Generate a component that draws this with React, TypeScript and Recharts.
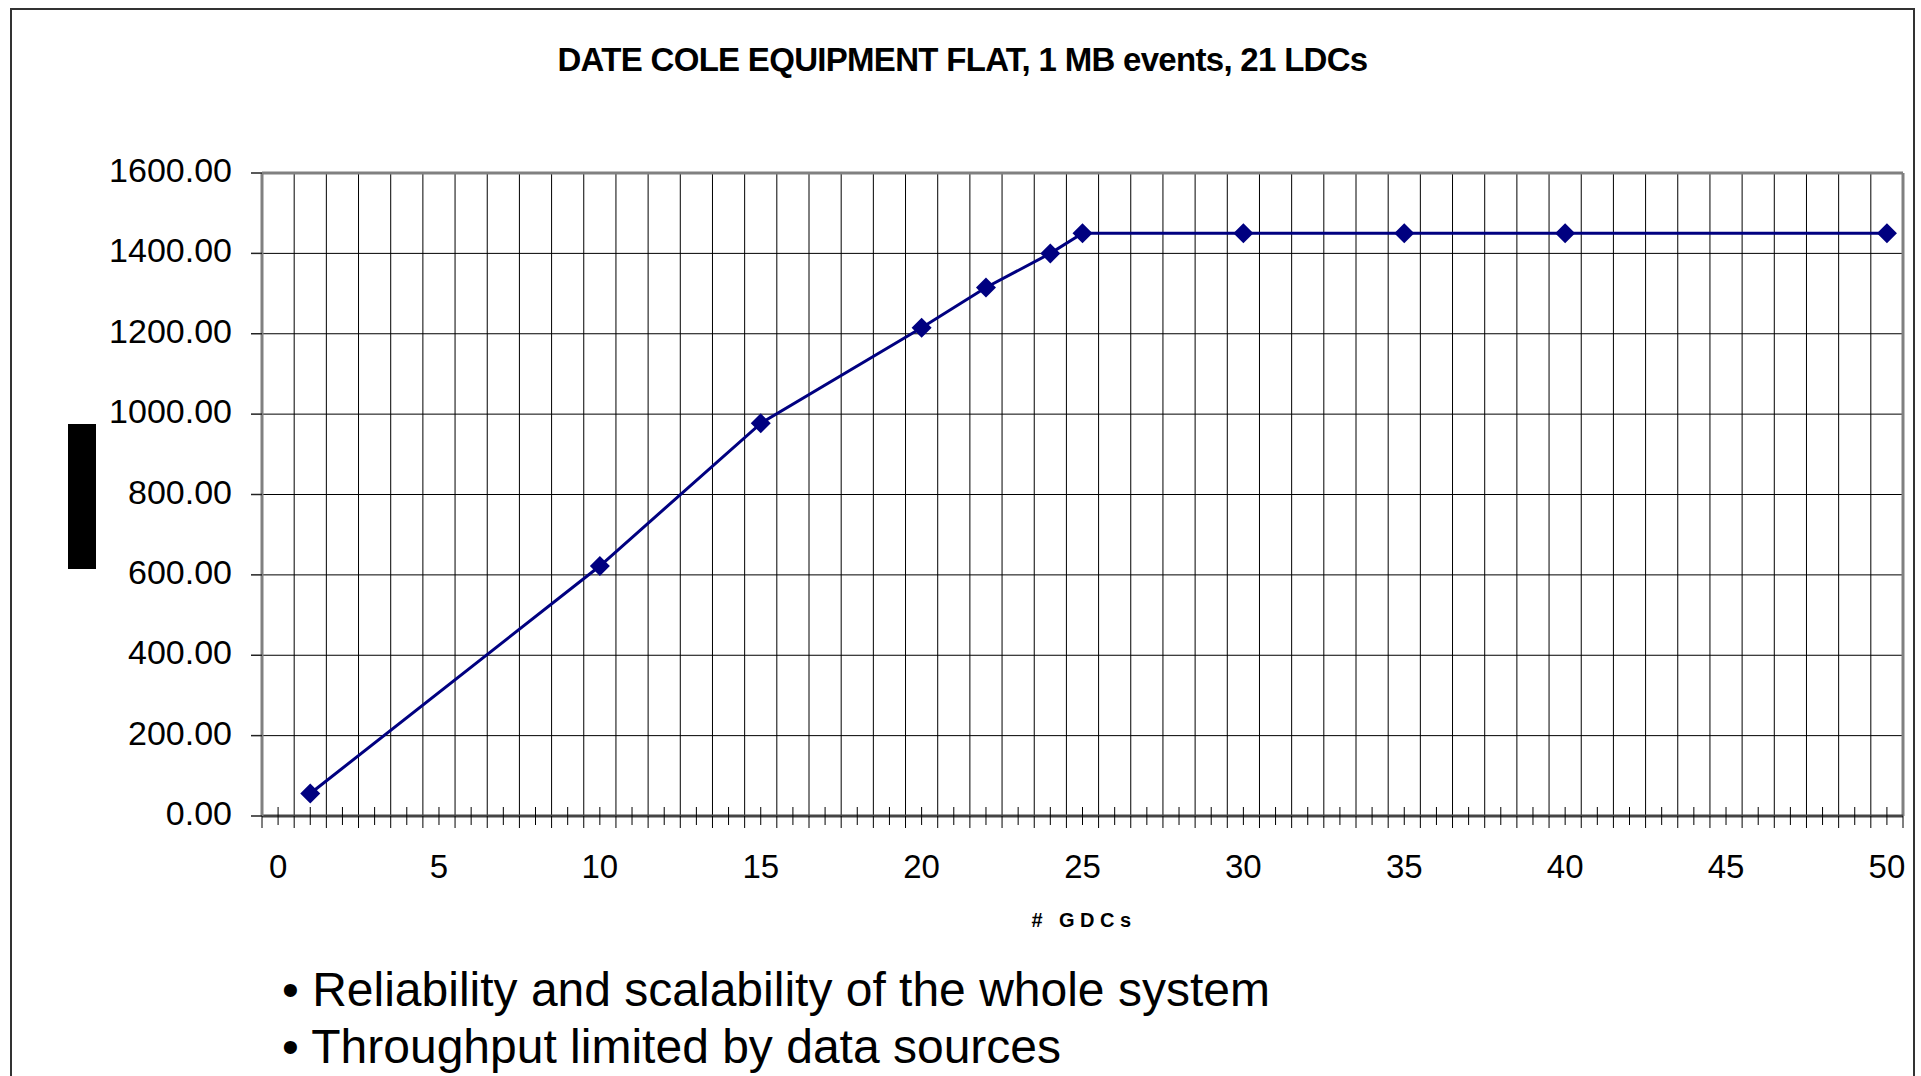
import React from 'react';
import { LineChart, Line, XAxis, YAxis, CartesianGrid, ReferenceLine } from 'recharts';

const FONT = '"Liberation Sans", Arial, Helvetica, sans-serif';

// measured throughput (MB/s) against number of GDCs
const gdcCounts = [1, 10, 15, 20, 22, 24, 25, 30, 35, 40, 50];
const throughput = [56, 622, 977, 1215, 1315, 1400, 1450, 1450, 1450, 1450, 1450];

const yTicks = [0, 200, 400, 600, 800, 1000, 1200, 1400, 1600];
const xLabels = [0, 5, 10, 15, 20, 25, 30, 35, 40, 45, 50];

const title = 'DATE COLE EQUIPMENT FLAT, 1 MB events, 21 LDCs';
const xTitle = '# GDCs';
const bullets = ['Reliability and scalability of the whole system', 'Throughput limited by data sources'];

const data = gdcCounts.map((g, i) => ({ gdc: g, rate: throughput[i] }));

// the x axis is a category axis 0..50: ticks at cell centres and cell borders
const cellTicks: number[] = [];
for (let i = -1; i <= 101; i++) cellTicks.push(i / 2);
const cellBorders = cellTicks.filter((v) => v % 1 !== 0 && v > 0 && v < 50);

function GdcTick({ x, y, payload }: any) {
  const v = payload.value;
  const border = v % 1 !== 0;
  return (
    <g>
      {border ? (
        <line x1={x} x2={x} y1={y} y2={y + 12} stroke="#000" strokeWidth={1} />
      ) : (
        <line x1={x} x2={x} y1={y - 9} y2={y + 9} stroke="#000" strokeWidth={1} />
      )}
      {!border && xLabels.includes(v) && (
        <text x={x} y={y + 62} textAnchor="middle" fontSize={33} fill="#000" fontFamily={FONT}>
          {v}
        </text>
      )}
    </g>
  );
}

function RateTick({ x, y, payload }: any) {
  return (
    <text x={x} y={y + 9} textAnchor="end" fontSize={34} fill="#000" fontFamily={FONT}>
      {Number(payload.value).toFixed(2)}
    </text>
  );
}

function Diamond({ cx, cy, index }: any) {
  const r = 10;
  return (
    <path
      key={`d-${index}`}
      d={`M${cx},${cy - r}L${cx + r},${cy}L${cx},${cy + r}L${cx - r},${cy}Z`}
      fill="#000080"
    />
  );
}

export default function App() {
  return (
    <div
      style={{
        position: 'absolute',
        left: 0,
        top: 0,
        width: 1921,
        height: 1076,
        overflow: 'hidden',
        background: '#fff',
        fontFamily: FONT,
      }}
    >
      <div
        style={{
          position: 'absolute',
          left: 10,
          top: 8,
          width: 1901,
          height: 1200,
          border: '2px solid #333',
        }}
      />
      <LineChart
        width={1921}
        height={1076}
        data={data}
        margin={{ top: 173, right: 18, left: 62, bottom: 180 }}
        style={{ position: 'absolute', left: 0, top: 0 }}
      >
        <CartesianGrid stroke="#000" strokeWidth={1} verticalValues={cellBorders} />
        <XAxis
          type="number"
          dataKey="gdc"
          domain={[-0.5, 50.5]}
          ticks={cellTicks}
          interval={0}
          height={80}
          tickSize={0}
          tickMargin={0}
          tickLine={false}
          tick={<GdcTick />}
          axisLine={{ stroke: '#444', strokeWidth: 3 }}
        />
        <YAxis
          type="number"
          domain={[0, 1600]}
          ticks={yTicks}
          interval={0}
          width={200}
          tickSize={11}
          tickMargin={19}
          tickLine={{ stroke: '#222', strokeWidth: 1.5 }}
          tick={<RateTick />}
          axisLine={{ stroke: '#808080', strokeWidth: 3 }}
        />
        <ReferenceLine y={1600} stroke="#808080" strokeWidth={3} />
        <ReferenceLine x={50.5} stroke="#808080" strokeWidth={3} />
        <Line
          type="linear"
          dataKey="rate"
          stroke="#000080"
          strokeWidth={3}
          dot={<Diamond />}
          activeDot={false}
          isAnimationActive={false}
        />
      </LineChart>
      <div
        style={{
          position: 'absolute',
          left: 10,
          width: 1905,
          top: 43,
          textAlign: 'center',
          fontSize: 33,
          lineHeight: '33px',
          fontWeight: 'bold',
          letterSpacing: -0.7,
          whiteSpace: 'nowrap',
        }}
      >
        {title}
      </div>
      <div
        style={{
          position: 'absolute',
          left: 979,
          width: 200,
          top: 910,
          textAlign: 'center',
          fontSize: 20,
          lineHeight: '20px',
          fontWeight: 'bold',
          letterSpacing: 5.5,
          paddingLeft: 5,
          whiteSpace: 'nowrap',
        }}
      >
        {xTitle}
      </div>
      <div style={{ position: 'absolute', left: 68, top: 424, width: 28, height: 145, background: '#000' }} />
      {bullets.map((b, i) => (
        <div
          key={b}
          style={{
            position: 'absolute',
            left: 282,
            top: 966 + i * 57,
            fontSize: 48,
            lineHeight: '48px',
            whiteSpace: 'nowrap',
          }}
        >
          {'\u2022 ' + b}
        </div>
      ))}
    </div>
  );
}
